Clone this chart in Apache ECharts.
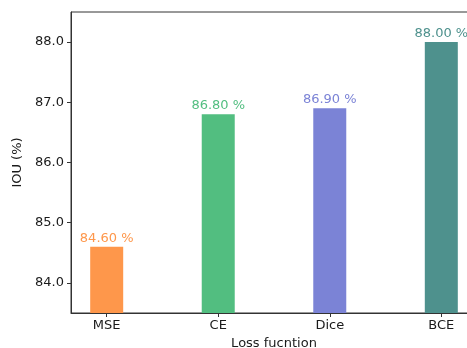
<!DOCTYPE html>
<html><head><meta charset="utf-8">
<script src="https://cdn.jsdelivr.net/npm/echarts@6/dist/echarts.min.js"></script>
<style>html,body{margin:0;padding:0;background:#fff}#c{width:467px;height:348px}</style>
</head><body><div id="c"></div>
<script>
const categories = ['MSE', 'CE', 'Dice', 'BCE'];
const values = [84.6, 86.8, 86.9, 88.0];
const colors = ['#FE974B', '#52BE80', '#7B83D6', '#4E918D'];
const yTicks = [84, 85, 86, 87, 88];
const xTicks = [0, 1, 2, 3];

const chart = echarts.init(document.getElementById('c'), null, {renderer: 'canvas'});
const font = 'DejaVu Sans';
chart.setOption({
  animation: false,
  grid: {left: 71, top: 12, width: 406, height: 301, containLabel: false, outerBoundsMode: 'none', show: true, borderColor: '#333', borderWidth: 1, backgroundColor: 'transparent'},
  xAxis: {
    type: 'value', min: -0.32, max: 3.32,
    name: 'Loss fucntion', nameLocation: 'middle', nameGap: 24,
    nameTextStyle: {fontFamily: font, fontSize: 13, color: '#1a1a1a'},
    axisLine: {show: true, onZero: false, lineStyle: {color: '#333', width: 1}},
    axisTick: {show: true, inside: false, length: 4, customValues: xTicks, lineStyle: {color: '#333'}},
    axisLabel: {customValues: xTicks, formatter: v => categories[Math.round(v)] || '', fontFamily: font, fontSize: 13, color: '#1a1a1a', margin: 6},
    splitLine: {show: false}
  },
  yAxis: {
    type: 'value', min: 83.5, max: 88.5,
    name: 'IOU (%)', nameLocation: 'middle', nameGap: 44, nameRotate: 90,
    nameTextStyle: {fontFamily: font, fontSize: 13, color: '#1a1a1a'},
    axisLine: {show: true, onZero: false, lineStyle: {color: '#333', width: 1}},
    axisTick: {show: true, inside: false, length: 4, customValues: yTicks, lineStyle: {color: '#333'}},
    axisLabel: {customValues: yTicks, formatter: v => v.toFixed(1), fontFamily: font, fontSize: 13, color: '#1a1a1a', margin: 7},
    splitLine: {show: false}
  },
  series: [{
    type: 'bar',
    barWidth: 33,
    data: values.map((v, i) => ({value: [i, v], itemStyle: {color: colors[i]}, label: {color: colors[i]}})),
    label: {show: true, position: 'top', distance: 2, fontFamily: font, fontSize: 13, formatter: p => p.value[1].toFixed(2) + ' %'}
  }]
});
</script></body></html>
